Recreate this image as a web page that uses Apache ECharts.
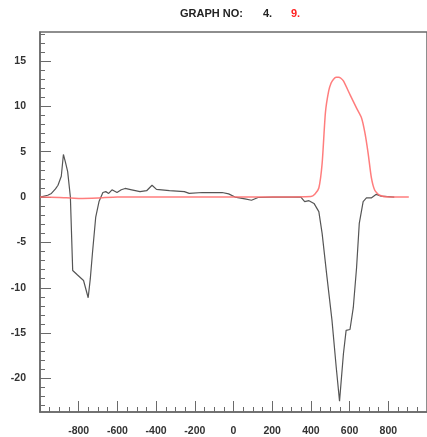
<!DOCTYPE html>
<html>
<head>
<meta charset="utf-8">
<script src="https://cdn.jsdelivr.net/npm/echarts@6/dist/echarts.min.js"></script>
<style>html,body{margin:0;padding:0;background:#fff;}#c{width:427px;height:437px;}</style>
</head>
<body>
<div id="c"></div>
<script>
// Series 4 (black)
const xBlack = [-1000,-990,-960,-941,-920,-907,-890,-879,-868,-857,-843,-831,-806,-775,-751,-740,-729,-712,-695,-675,-660,-645,-628,-622,-602,-580,-560,-526,-483,-449,-421,-398,-331,-254,-229,-161,-59,-25,8,59,93,127,200,300,348,368,390,416,441,458,483,509,531,548,568,582,602,619,636,650,670,687,712,738,763,831];
const yBlack = [0,0.05,0.2,0.4,0.9,1.3,2.3,4.7,3.8,2.8,0,-8.1,-8.6,-9.2,-11.1,-9,-6.2,-2.2,-0.5,0.5,0.6,0.4,0.8,0.9,0.5,0.8,0.95,0.8,0.6,0.7,1.3,0.85,0.7,0.6,0.4,0.5,0.5,0.35,0,-0.2,-0.35,-0.05,0,0,0,-0.5,-0.4,-0.7,-1.6,-4.0,-8.8,-13.6,-18.8,-22.5,-17.3,-14.7,-14.6,-12.2,-7.8,-2.9,-0.5,-0.1,-0.1,0.3,0.1,0];
// Series 9 (red)
const xRed = [-1000,-900,-800,-700,-600,-400,-200,0,200,400,420,441,458,475,492,505,517,530,543,555,568,602,636,662,679,696,712,730,755,806,906];
const yRed = [0,-0.05,-0.15,-0.1,0,0,0,0,0,0.05,0.3,1.0,3.7,9.3,11.7,12.6,13.0,13.2,13.2,13.1,12.8,11.3,9.8,8.7,7.1,4.8,2.2,0.75,0.2,0,0];
// Axis labels
const yLabelValues = [-20,-15,-10,-5,0,5,10,15];
const yMinorValues = [];
for (let v = -23; v <= 18; v++) yMinorValues.push(v);
const titleText = 'GRAPH NO:';
const graphNos = ['4.', '9.'];

const chart = echarts.init(document.getElementById('c'));
const axisColor = '#6a6a6a';
const labelStyle = {fontFamily: 'Liberation Sans, Arial, sans-serif', fontSize: 10.5, fontWeight: 'bold', color: '#333'};
const titleFont = 'bold 11px Liberation Sans, Arial, sans-serif';
chart.setOption({
  animation: false,
  backgroundColor: '#fff',
  grid: {left: 40, top: 32, right: -5, bottom: 25, show: true, borderColor: axisColor, borderWidth: 1.5, containLabel: false},
  graphic: [
    {type: 'text', left: 180, top: 8, style: {text: titleText, font: titleFont, fill: '#222'}},
    {type: 'text', left: 263, top: 8, style: {text: graphNos[0], font: titleFont, fill: '#222'}},
    {type: 'text', left: 291, top: 8, style: {text: graphNos[1], font: titleFont, fill: '#ff2020'}}
  ],
  xAxis: {
    type: 'value', min: -1000, max: 1000, interval: 200, position: 'bottom',
    axisLine: {onZero: false, lineStyle: {color: axisColor, width: 1.5}},
    axisTick: {inside: true, length: 11, lineStyle: {color: axisColor, width: 1}},
    minorTick: {show: true, splitNumber: 4, length: 5, lineStyle: {color: axisColor, width: 1}},
    axisLabel: Object.assign({margin: 14, showMinLabel: false, showMaxLabel: false}, labelStyle),
    splitLine: {show: false}, minorSplitLine: {show: false}
  },
  yAxis: [
    {
      type: 'value', min: -23.7, max: 18.2, position: 'left',
      axisLine: {show: true, onZero: false, lineStyle: {color: axisColor, width: 1.5}},
      axisTick: {inside: true, length: 11, customValues: yLabelValues, lineStyle: {color: axisColor, width: 1}},
      axisLabel: Object.assign({margin: 14, customValues: yLabelValues}, labelStyle),
      splitLine: {show: false}
    },
    {
      type: 'value', min: -23.7, max: 18.2, position: 'left', offset: 0,
      axisLine: {show: false, onZero: false},
      axisTick: {show: true, inside: true, length: 5, customValues: yMinorValues, lineStyle: {color: axisColor, width: 1}},
      axisLabel: {show: false},
      splitLine: {show: false}
    }
  ],
  series: [
    {type: 'line', name: '4', yAxisIndex: 0, data: xBlack.map((x, i) => [x, yBlack[i]]), symbol: 'none',
     lineStyle: {color: '#555555', width: 1.2}, z: 2},
    {type: 'line', name: '9', yAxisIndex: 0, data: xRed.map((x, i) => [x, yRed[i]]), symbol: 'none', smooth: 0.2,
     lineStyle: {color: '#ff6f6f', width: 1.5, opacity: 0.9}, z: 3}
  ]
});
</script>
</body>
</html>
